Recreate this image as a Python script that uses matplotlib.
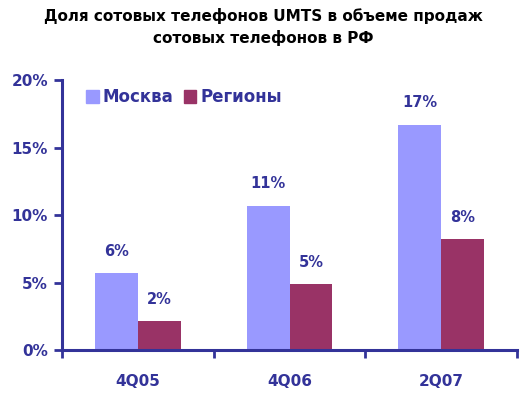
import matplotlib
matplotlib.use("Agg")
import matplotlib.pyplot as plt
from matplotlib.ticker import FuncFormatter, FixedLocator
import matplotlib.patches as mpatches

# ── Data ──────────────────────────────────────────────────────────────────────
periods = ["4Q05", "4Q06", "2Q07"]
moscow  = [5.7, 10.7, 16.7]
regions = [2.15, 4.9, 8.2]
moscow_labels  = ["6%", "11%", "17%"]
regions_labels = ["2%", "5%", "8%"]

# ── Style ─────────────────────────────────────────────────────────────────────
NAVY = "#333399"
LILAC = "#9999FF"
PLUM = "#993366"

plt.rcParams["font.family"] = ["DejaVu Sans"]

fig = plt.figure(figsize=(5.26, 3.96), dpi=100, facecolor="white")
ax = fig.add_axes([0.118, 0.116, 0.865, 0.682])

w = 0.283
xs = list(range(len(periods)))
ax.bar([x - w / 2 for x in xs], moscow, width=w, color=LILAC, zorder=2)
ax.bar([x + w / 2 for x in xs], regions, width=w, color=PLUM, zorder=2)

for x, v, t in zip(xs, moscow, moscow_labels):
    ax.text(x - w / 2, v + 1.6, t, ha="center", va="center",
            fontsize=10.5, fontweight="bold", color=NAVY)
for x, v, t in zip(xs, regions, regions_labels):
    ax.text(x + w / 2, v + 1.6, t, ha="center", va="center",
            fontsize=10.5, fontweight="bold", color=NAVY)

ax.set_xlim(-0.5, 2.5)
ax.set_ylim(0, 20)
ax.yaxis.set_major_locator(FixedLocator([0, 5, 10, 15, 20]))
ax.yaxis.set_major_formatter(FuncFormatter(lambda v, p: f"{v:.0f}%"))

# category boundaries as ticks, labels as minor ticks
ax.xaxis.set_major_locator(FixedLocator([-0.5, 0.5, 1.5, 2.5]))
ax.set_xticklabels([])
ax.xaxis.set_minor_locator(FixedLocator(xs))
ax.set_xticklabels(periods, minor=True)
ax.tick_params(axis="x", which="minor", length=0, pad=17,
               labelsize=11, labelcolor=NAVY)
ax.tick_params(axis="x", which="major", length=6, width=2, color=NAVY, direction="out")
ax.tick_params(axis="y", length=6, width=2, color=NAVY, direction="out",
               labelsize=11, labelcolor=NAVY, pad=4)
for lab in ax.get_xticklabels(minor=True) + ax.get_yticklabels():
    lab.set_fontweight("bold")

for side in ["top", "right"]:
    ax.spines[side].set_visible(False)
for side in ["left", "bottom"]:
    ax.spines[side].set_color(NAVY)
    ax.spines[side].set_linewidth(2.2)

handles = [mpatches.Patch(color=LILAC, label="Москва"),
           mpatches.Patch(color=PLUM, label="Регионы")]
leg = ax.legend(handles=handles, loc="upper left", ncol=2, frameon=False,
                bbox_to_anchor=(0.02, 1.025), handlelength=0.75, handleheight=0.8,
                handletextpad=0.25, columnspacing=0.6,
                prop={"size": 12, "weight": "bold"})
for t in leg.get_texts():
    t.set_color(NAVY)

fig.suptitle("Доля сотовых телефонов UMTS в объеме продаж\nсотовых телефонов в РФ",
             fontsize=11, fontweight="bold", color="black", y=0.98,
             linespacing=1.5)

plt.savefig("out.png", dpi=100, facecolor="white")
